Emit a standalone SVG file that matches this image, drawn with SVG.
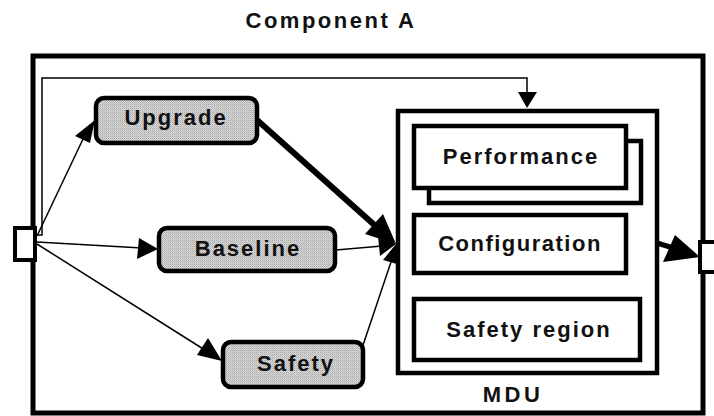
<svg xmlns="http://www.w3.org/2000/svg" width="714" height="416" viewBox="0 0 714 416">
<style>
text{font-family:"Liberation Sans",Arial,sans-serif;font-weight:bold;fill:#111;text-anchor:middle}
.lbl{font-size:22px;letter-spacing:2px}
.gray{stroke:#000;stroke-width:4.5}
.box{fill:#fff;stroke:#000;stroke-width:4.5}
.thin{fill:none;stroke:#000;stroke-width:1.5}
</style>
<defs>
<pattern id="stip" width="2" height="2" patternUnits="userSpaceOnUse">
<rect width="2" height="2" fill="#dadada"/>
<rect width="1" height="1" fill="#a8a8a8"/>
<rect x="1" y="1" width="1" height="1" fill="#bcbcbc"/>
</pattern>
</defs>
<text x="331" y="28" style="font-size:22px;letter-spacing:2.5px">Component A</text>
<g id="component">
<rect x="33" y="56" width="670" height="357" fill="none" stroke="#000" stroke-width="5"/>
</g>
<g id="connectors">
<polyline class="thin" points="30,235 42,235 42,78 527,78 527,94"/>
<polygon points="518,92 537,92 527,108"/>
<line class="thin" x1="37" y1="236" x2="84" y2="137"/>
<polygon points="95,120 90,143 75,136"/>
<line class="thin" x1="37" y1="242" x2="142" y2="248"/>
<polygon points="158,249 137,259 139,238"/>
<line class="thin" x1="37" y1="244" x2="208" y2="352"/>
<polygon points="222,361 197,355 208,338"/>
<line x1="257" y1="120" x2="380" y2="230" stroke="#000" stroke-width="6"/>
<polygon points="396,244 365,234 383,214"/>
<line class="thin" x1="336" y1="250" x2="382" y2="246"/>
<polygon points="396,244 380,256 378,236"/>
<line class="thin" x1="358" y1="360" x2="391" y2="262"/>
<polygon points="396,244 397,264 383,260"/>
<line x1="657" y1="243" x2="683" y2="251" stroke="#000" stroke-width="5"/>
<polygon points="700,257 663,262 675,235"/>
</g>
<g id="port-in"><rect x="15" y="228" width="20" height="32" fill="#fff" stroke="#000" stroke-width="4"/></g>
<g id="port-out"><rect x="700" y="242" width="20" height="30" fill="#fff" stroke="#000" stroke-width="4"/></g>
<g id="upgrade"><rect class="gray" x="96" y="98" width="161" height="45" rx="8" fill="url(#stip)"/><text class="lbl" x="176" y="125">Upgrade</text></g>
<g id="baseline"><rect class="gray" x="159" y="228" width="176" height="43" rx="8" fill="url(#stip)"/><text class="lbl" x="248" y="256">Baseline</text></g>
<g id="safety"><rect class="gray" x="223" y="342" width="140" height="45" rx="8" fill="url(#stip)"/><text class="lbl" x="296" y="371">Safety</text></g>
<g id="mdu">
<rect class="box" x="398" y="111" width="259" height="262"/>
<text x="513" y="402" style="font-size:22px;letter-spacing:3.5px">MDU</text>
</g>
<g id="performance">
<rect class="box" x="429" y="141" width="212" height="62"/>
<rect class="box" x="414" y="126" width="212" height="62"/>
<text class="lbl" x="521" y="164">Performance</text>
</g>
<g id="configuration"><rect class="box" x="414" y="215" width="212" height="58"/><text class="lbl" x="520" y="251" style="letter-spacing:1.5px">Configuration</text></g>
<g id="safety-region"><rect class="box" x="414" y="299" width="226" height="61"/><text class="lbl" x="529" y="337">Safety region</text></g>
</svg>
